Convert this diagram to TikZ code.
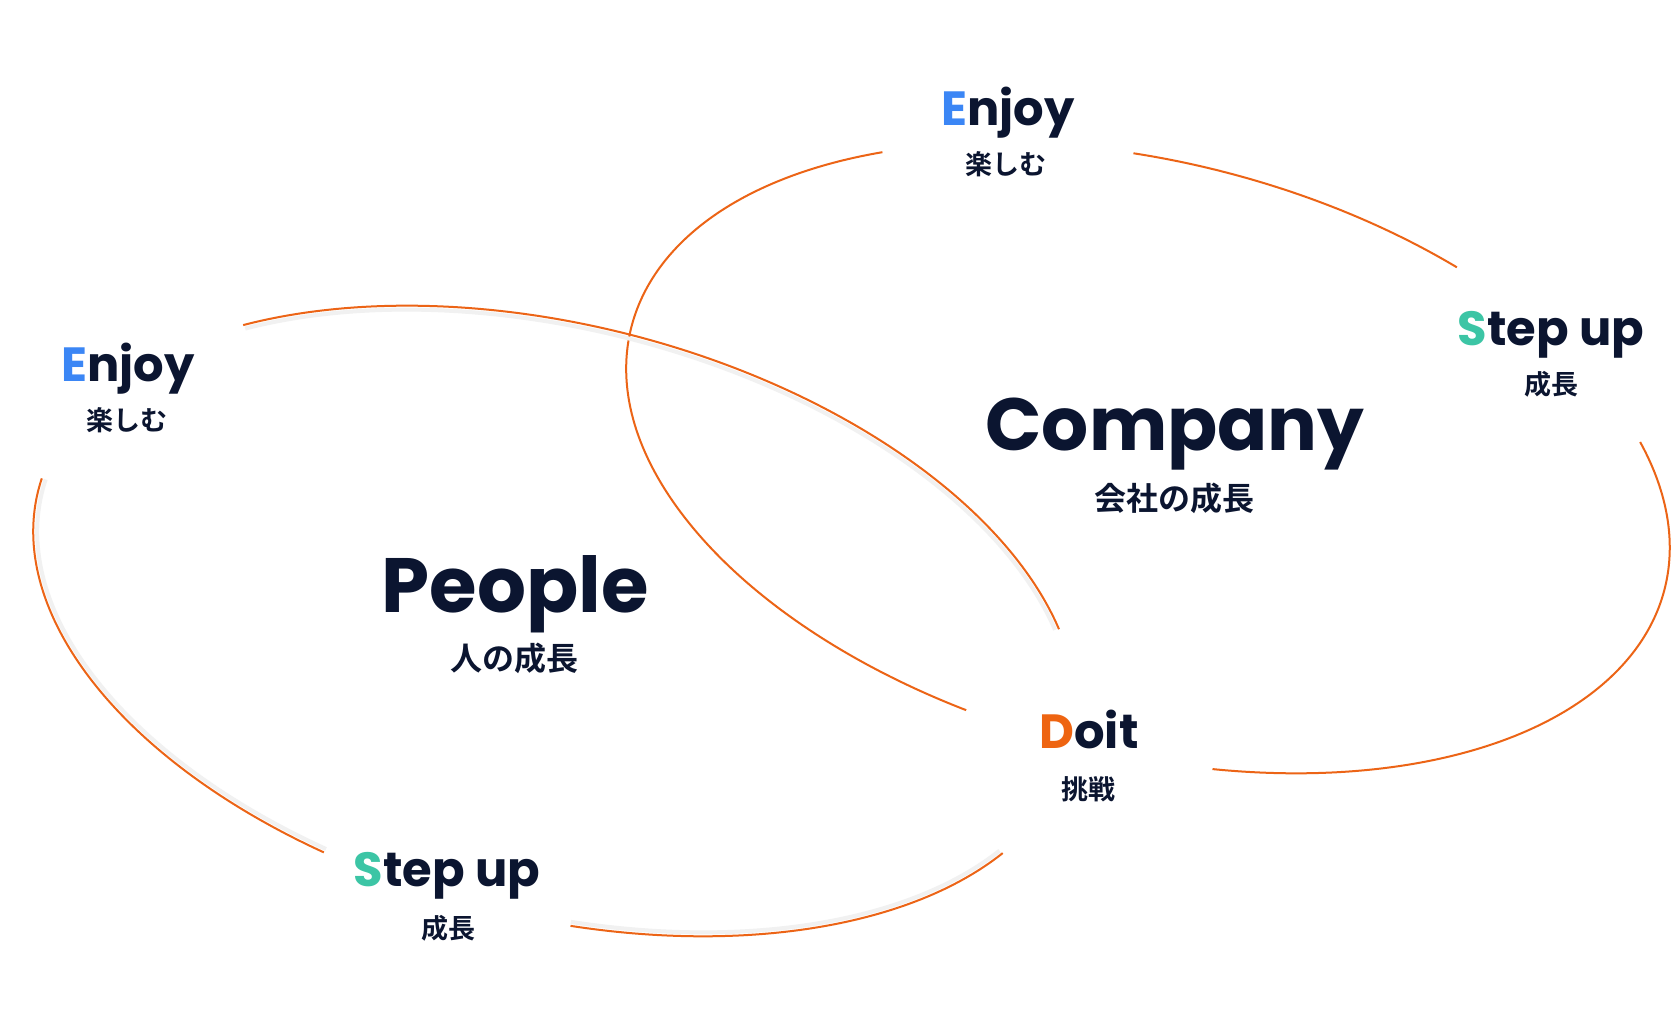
\documentclass[tikz,border=0pt]{standalone}
\usepackage{fontspec}
\setmainfont{Poppins}
\newfontfamily\popb{Poppins Bold}
\newfontfamily\jpb{Noto Sans CJK JP Bold}
\definecolor{navy}{HTML}{0B1530}
\definecolor{blueE}{HTML}{3B86F5}
\definecolor{greenS}{HTML}{3CC5A5}
\definecolor{orangeD}{HTML}{EE6411}
\definecolor{ringc}{HTML}{EC6416}
\definecolor{shadowc}{HTML}{F1F1F1}
\tikzset{
  ring/.style={draw=ringc, line width=2pt},
  ringshadow/.style={draw=shadowc, line width=4pt},
  hsmall/.style={anchor=base, inner sep=0pt, text=navy, font=\popb\fontsize{48}{48}\selectfont},
  hbig/.style={anchor=base, inner sep=0pt, text=navy, font=\popb\fontsize{77}{77}\selectfont},
  jsmall/.style={anchor=base, inner sep=0pt, text=navy, font=\jpb\fontsize{27}{27}\selectfont},
  jbig/.style={anchor=base, inner sep=0pt, text=navy, font=\jpb\fontsize{32}{32}\selectfont},
}
\begin{document}
\begin{tikzpicture}[x=1pt,y=1pt]
\useasboundingbox (0,0) rectangle (1680,1019);
\fill[white] (0,0) rectangle (1680,1019);
% right ellipse (Company)
\begin{scope}[shift={(1148,561)}, rotate=-14.2]
  \draw[ring] (128.6:533 and 296) arc[start angle=128.6, end angle=257.6, x radius=533, y radius=296];
  \draw[ring] (285.1:533 and 296) arc[start angle=285.1, end angle=387.4, x radius=533, y radius=296];
  \draw[ring] (61.7:533 and 296) arc[start angle=61.7, end angle=99.6, x radius=533, y radius=296];
\end{scope}
% left ellipse (People) with soft inner shadow
\begin{scope}[shift={(555,398)}, rotate=-14.2]
  \draw[ringshadow] (23.0:529 and 292) arc[start angle=23.0, end angle=134.7, x radius=529, y radius=292];
  \draw[ringshadow] (177.6:529 and 292) arc[start angle=177.6, end angle=251.7, x radius=529, y radius=292];
  \draw[ringshadow] (279.7:529 and 292) arc[start angle=279.7, end angle=337.1, x radius=529, y radius=292];
  \draw[ring] (23.0:533 and 296) arc[start angle=23.0, end angle=134.7, x radius=533, y radius=296];
  \draw[ring] (177.6:533 and 296) arc[start angle=177.6, end angle=251.7, x radius=533, y radius=296];
  \draw[ring] (279.7:533 and 296) arc[start angle=279.7, end angle=337.1, x radius=533, y radius=296];
\end{scope}
% labels
\node[hsmall] (enjoyTop) at (1008,893) {{\color{blueE}E}njoy};
\node[jsmall] (enjoyTopJ) at (1006,844) {楽しむ};
\node[hsmall] (enjoyLeft) at (128,637) {{\color{blueE}E}njoy};
\node[jsmall] (enjoyLeftJ) at (127,588) {楽しむ};
\node[hsmall] (stepRight) at (1551,673) {{\color{greenS}S}tep up};
\node[jsmall] (stepRightJ) at (1551,624) {成長};
\node[hsmall] (doit) at (1089,270) {{\color{orangeD}D}oit};
\node[jsmall] (doitJ) at (1088,219) {挑戦};
\node[hsmall] (stepBottom) at (447,132) {{\color{greenS}S}tep up};
\node[jsmall] (stepBottomJ) at (448,80) {成長};
\node[hbig] (people) at (515,406) {People};
\node[jbig] (peopleJ) at (514,348) {人の成長};
\node[hbig, font=\popb\fontsize{74}{74}\selectfont] (company) at (1175,568) {Company};
\node[jbig] (companyJ) at (1174,508) {会社の成長};
\end{tikzpicture}
\end{document}
